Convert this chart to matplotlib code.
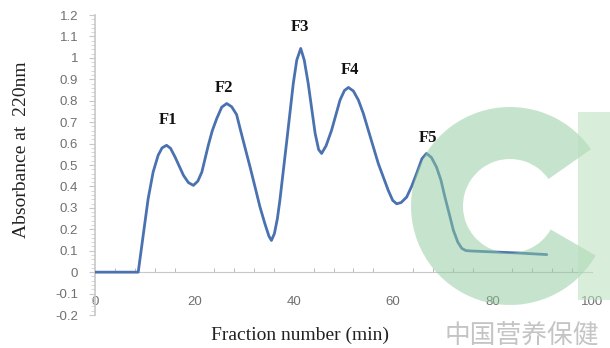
import matplotlib
matplotlib.use("Agg")
import matplotlib.pyplot as plt
from matplotlib.patches import Wedge, Rectangle
from matplotlib.ticker import MultipleLocator

# Elution profile (fraction number in min, absorbance)
fraction = [0, 8.7, 9.7, 10.7, 11.7, 12.7, 13.5, 14.4, 15.2, 16.1, 17.8,
            18.8, 19.8, 20.7, 21.5, 22.8, 23.6, 24.5, 25.5, 26.5, 27.5,
            28.5, 29.2, 30.2, 31.2, 32.2, 33.2, 34.2, 35.0, 35.5, 36.1,
            36.7, 37.2, 38.6, 39.9, 40.6, 41.4, 42.1, 42.9, 44.3, 45.0,
            45.6, 46.5, 47.6, 49.3, 50.2, 51.0, 52.0, 53.0, 54.0, 55.0,
            57.0, 59.0, 59.9, 60.7, 61.6, 62.7, 63.7, 64.7, 65.8, 66.7,
            67.7, 68.7, 69.6, 70.4, 71.3, 72.1, 73.0, 73.8, 74.6, 75.5,
            77.5, 81.5, 85.5, 90.9]
absorbance = [0, 0, 0.172, 0.343, 0.467, 0.545, 0.580, 0.592, 0.578, 0.538,
              0.452, 0.418, 0.405, 0.425, 0.467, 0.592, 0.660, 0.717, 0.770,
              0.787, 0.772, 0.735, 0.670, 0.580, 0.491, 0.398, 0.304, 0.225,
              0.168, 0.148, 0.180, 0.250, 0.335, 0.615, 0.881, 0.990, 1.044,
              0.990, 0.881, 0.647, 0.572, 0.554, 0.590, 0.662, 0.803, 0.848,
              0.862, 0.845, 0.803, 0.740, 0.662, 0.507, 0.382, 0.335, 0.319,
              0.325, 0.350, 0.400, 0.460, 0.530, 0.554, 0.535, 0.491, 0.430,
              0.351, 0.270, 0.196, 0.140, 0.111, 0.101, 0.099, 0.097, 0.093,
              0.089, 0.082]

peak_names = ["F1", "F2", "F3", "F4", "F5"]
peak_x = [14.7, 26.0, 41.3, 51.2, 67.0]
peak_y = [0.71, 0.86, 1.145, 0.945, 0.625]

fig = plt.figure(figsize=(6.1, 3.48), dpi=100)
ax = fig.add_axes([0.1557, 0.0948, 0.8148, 0.862])

ax.plot(fraction, absorbance, color="#4a72b0", lw=2.0, solid_joinstyle="round",
        solid_capstyle="round", zorder=3)

for name, px, py in zip(peak_names, peak_x, peak_y):
    ax.text(px, py, name, ha="center", va="center", fontsize=12,
            fontweight="bold", family="Liberation Serif", color="#111111")

ax.set_xlim(0, 100)
ax.set_ylim(-0.2, 1.2)

# axis styling like the Excel original
for s in ["top", "right"]:
    ax.spines[s].set_visible(False)
ax.spines["bottom"].set_position(("data", 0))
ax.spines["bottom"].set_color("#c8c8c8")
ax.spines["left"].set_color("#c8c8c8")
ax.spines["left"].set_linewidth(1.2)

ax.xaxis.set_major_locator(MultipleLocator(20))
ax.xaxis.set_minor_locator(MultipleLocator(4))
ax.tick_params(axis="x", which="major", length=0, pad=17, labelsize=9.5,
               labelcolor="#707070")
ax.tick_params(axis="x", which="minor", direction="in", length=3,
               color="#b0b0b0")
ax.yaxis.set_major_locator(MultipleLocator(0.1))
ax.yaxis.set_minor_locator(MultipleLocator(0.02))
ax.tick_params(axis="y", which="major", length=4, color="#c8c8c8", pad=8,
               labelsize=9.5, labelcolor="#707070")
ax.tick_params(axis="y", which="minor", length=3, color="#d0d0d0")
ax.set_yticks([round(v * 0.1, 1) for v in range(-2, 13)])
ax.set_yticklabels(["-0.2", "-0.1", "0", "0.1", "0.2", "0.3", "0.4", "0.5",
                    "0.6", "0.7", "0.8", "0.9", "1", "1.1", "1.2"])
for lbl in ax.get_xticklabels() + ax.get_yticklabels():
    lbl.set_family("Liberation Sans")

fig.text(22 / 610, 1 - 150 / 348, "Absorbance at  220nm", rotation=90,
         ha="center", va="center", fontsize=14, family="Liberation Serif",
         color="#222222")
fig.text(300 / 610, 1 - 335 / 348, "Fraction number (min)", ha="center",
         va="center", fontsize=14, family="Liberation Serif", color="#222222")

# watermark
fig.patches.append(Wedge((510, 142), 99, 35, 330, width=52, transform=None,
                         facecolor="#8fcb9c", alpha=0.5, lw=0, zorder=5))
fig.patches.append(Rectangle((578, 48), 40, 188, transform=None,
                             facecolor="#b9e0bd", alpha=0.55, lw=0, zorder=5))
fig.text(445 / 610, 1 - 343 / 348, "中国营养保健", fontsize=18.5,
         family=["Noto Sans CJK SC", "DejaVu Sans"], color="#c4c4c4",
         ha="left", va="baseline")

fig.savefig("out.png", dpi=100)
